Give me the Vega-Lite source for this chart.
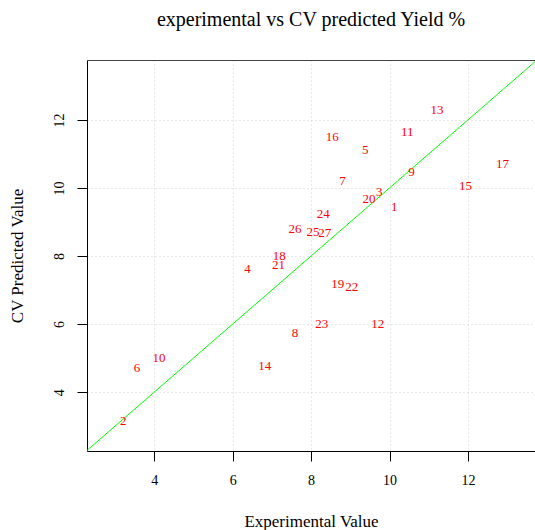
{
  "$schema": "https://vega.github.io/schema/vega-lite/v6.json",
  "width": 448,
  "height": 391,
  "autosize": "none",
  "padding": {"left": 87, "top": 60, "right": 0, "bottom": 79},
  "background": "white",
  "config": {
    "view": {"stroke": null},
    "font": "Liberation Serif",
    "axis": {
      "labelFont": "Liberation Serif",
      "titleFont": "Liberation Serif",
      "labelColor": "black",
      "titleColor": "black",
      "titleFontWeight": "normal",
      "labelFontSize": 14,
      "titleFontSize": 17,
      "domainColor": "black",
      "tickColor": "black",
      "tickSize": 10,
      "gridColor": "#d3d3d3",
      "gridDash": [1, 3]
    }
  },
  "title": {
    "text": "experimental vs CV predicted Yield %",
    "font": "Liberation Serif",
    "fontSize": 20,
    "fontWeight": "normal",
    "color": "black",
    "anchor": "middle",
    "offset": 30
  },
  "layer": [
    {
      "data": {"values": [{"v": 0}, {"v": 20}]},
      "mark": {"type": "line", "color": "#00ff00", "strokeWidth": 1, "clip": true},
      "encoding": {
        "x": {
          "field": "v", "type": "quantitative",
          "scale": {"domain": [2.286, 13.71], "nice": false, "zero": false},
          "axis": {"orient": "top", "labels": false, "ticks": false, "grid": false, "title": null, "domainColor": "#444"}
        },
        "y": {
          "field": "v", "type": "quantitative",
          "scale": {"domain": [2.27, 13.76], "nice": false, "zero": false},
          "axis": {
            "values": [4, 6, 8, 10, 12],
            "title": "CV Predicted Value",
            "labelAngle": 270,
            "labelAlign": "center",
            "labelBaseline": "alphabetic",
            "labelPadding": 14,
            "titlePadding": 26,
            "grid": true
          }
        }
      }
    },
    {
      "data": {
        "values": [
          {"id": "1", "experimental": 10.12, "predicted": 9.45},
          {"id": "2", "experimental": 3.21, "predicted": 3.15},
          {"id": "3", "experimental": 9.74, "predicted": 9.89},
          {"id": "4", "experimental": 6.38, "predicted": 7.61},
          {"id": "5", "experimental": 9.38, "predicted": 11.12},
          {"id": "6", "experimental": 3.56, "predicted": 4.70},
          {"id": "7", "experimental": 8.80, "predicted": 10.21},
          {"id": "8", "experimental": 7.59, "predicted": 5.74},
          {"id": "9", "experimental": 10.56, "predicted": 10.48},
          {"id": "10", "experimental": 4.12, "predicted": 5.01},
          {"id": "11", "experimental": 10.45, "predicted": 11.63},
          {"id": "12", "experimental": 9.70, "predicted": 6.00},
          {"id": "13", "experimental": 11.21, "predicted": 12.29},
          {"id": "14", "experimental": 6.82, "predicted": 4.76},
          {"id": "15", "experimental": 11.94, "predicted": 10.06},
          {"id": "16", "experimental": 8.54, "predicted": 11.51},
          {"id": "17", "experimental": 12.88, "predicted": 10.71},
          {"id": "18", "experimental": 7.19, "predicted": 8.00},
          {"id": "19", "experimental": 8.68, "predicted": 7.17},
          {"id": "20", "experimental": 9.48, "predicted": 9.67},
          {"id": "21", "experimental": 7.17, "predicted": 7.74},
          {"id": "22", "experimental": 9.04, "predicted": 7.10},
          {"id": "23", "experimental": 8.27, "predicted": 6.00},
          {"id": "24", "experimental": 8.31, "predicted": 9.24},
          {"id": "25", "experimental": 8.05, "predicted": 8.71},
          {"id": "26", "experimental": 7.59, "predicted": 8.79},
          {"id": "27", "experimental": 8.35, "predicted": 8.67}
        ]
      },
      "mark": {"type": "text", "color": "#ff0000", "fontSize": 13, "font": "Liberation Serif", "align": "center", "baseline": "middle"},
      "encoding": {
        "x": {
          "field": "experimental", "type": "quantitative",
          "axis": {
            "values": [4, 6, 8, 10, 12],
            "title": "Experimental Value",
            "labelPadding": 12,
            "titlePadding": 26,
            "grid": true
          }
        },
        "y": {"field": "predicted", "type": "quantitative"},
        "text": {"field": "id"}
      }
    }
  ],
  "resolve": {"axis": {"x": "independent", "y": "shared"}}
}
